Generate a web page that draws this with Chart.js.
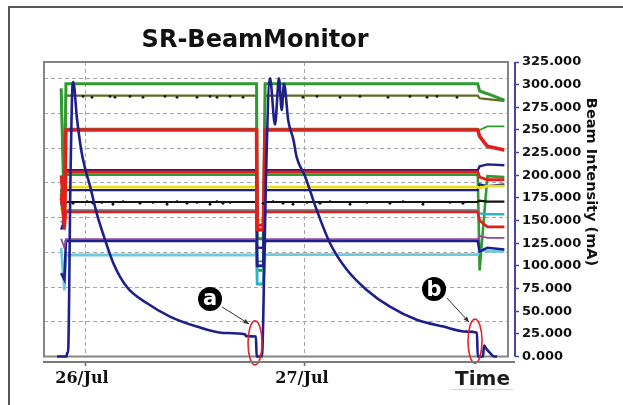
<!DOCTYPE html>
<html>
<head>
<meta charset="utf-8">
<title>SR-BeamMonitor</title>
<script src="https://cdn.jsdelivr.net/npm/chart.js@4.4.1/dist/chart.umd.min.js"></script>
<style>
    html, body { margin: 0; padding: 0; background: #fff; }
    #wrap { position: relative; width: 623px; height: 405px; overflow: hidden; }
    #edge { position: absolute; left: 8px; top: 6px; right: -4px; bottom: -4px; border-left: 2px solid #555; border-top: 2px solid #555; }
    #beamChart { position: absolute; left: 0; top: 0; }
</style>
</head>
<body>
<div id="wrap">
    <div id="edge"></div>
    <canvas id="beamChart" width="623" height="405"></canvas>
</div>
<script>
// Time axis is in hours counted from 26/Jul 00:00
const dayTicks  = [0, 24];
const dayLabels = ['26/Jul', '27/Jul'];

// Right axis (Beam Intensity, mA)
const intensityTicks = [0, 25, 50, 75, 100, 125, 150, 175, 200, 225, 250, 275, 300, 325];

// Background grid steps (grid of the hidden left axes)
const gridSteps = [1, 2, 3, 4, 5, 6, 7, 8];

// Stored beam current
const beamTime = [-3.05, -2.0, -1.96, -1.85, -1.58, -1.36, -1.28, -0.87, -0.38, 0, 0.55, 1.28, 2.18, 3.09, 4.55, 6.73, 9.27, 12.19, 15.09, 17.45, 17.56, 18.65, 18.72,
                  19.31, 19.42, 19.75, 20.18, 20.73, 21.16, 21.46, 21.71, 22.18, 22.72, 23.09, 24.0, 25.27, 26.73, 28.55, 30.73, 33.27, 36.19, 39.09, 41.64, 42.76, 42.84,
                  43.42, 43.53, 43.75, 44.18, 44.62, 44.95];
const beamCurrent = [0, 0, 4, 4, 200, 300, 303, 262, 226, 208, 188, 158, 129, 103, 77, 59, 44, 33, 26, 24.5, 22.5, 22, 0,
                     0, 30, 200, 307, 256, 307, 272, 301, 260, 240, 220, 199, 162, 125, 96, 73.5, 55, 40.5, 33, 27.5, 26.3, 0,
                     0, 12, 9, 4, 0, 0];

// Other machine channels, sampled at the same key times
const stepTime     = [-2.6, -2.25, -2.08, 18.72, 18.78, 19.45, 19.65, 42.85, 43.05, 43.9, 45.75];
const greenTop     = [296, 150, 301, 301, 130, 130, 301, 301, 293, 290, 283];
const oliveLine    = [288, 180, 288, 288, 150, 150, 288, 288, 285, 284, 282];
const red250       = [175, 160, 250, 250, 140, 140, 250, 250, 243, 232, 228];
const green250     = [190, 200, 251.5, 251.5, 105, 105, 251.5, 251.5, 250, 254, 254];
const navy205      = [140, 150, 205.5, 205.5, 100, 100, 205.5, 205.5, 210, 212, 211];
const red203       = [200, 150, 203.5, 203.5, 145, 145, 203.5, 203.5, 198, 195, 195];
const green200     = [185, 145, 200.5, 200.5, 95, 95, 200.5, 200.5, 95, 199, 198];
const yellow187    = [165, 150, 187, 187, 150, 150, 187, 187, 186, 188, 188];
const navy184      = [170, 150, 183.5, 183.5, 120, 120, 183.5, 183.5, 190, 188, 190];
const black170     = [175, 160, 170.5, 170.5, 150, 150, 170.5, 170.5, 172, 171, 171];
const cyan162      = [150, 145, 161.5, 161.5, 80, 80, 161.5, 161.5, 158, 157, 157];
const red159       = [180, 140, 159.5, 159.5, 140, 140, 159.5, 159.5, 150, 143, 143];
const purple129    = [130, 120, 129.5, 129.5, 120, 120, 129.5, 129.5, 133, 131, 131];
const navy127      = [92, 85, 127.5, 127.5, 100, 100, 127.5, 127.5, 116, 120, 118];
const lightCyan112 = [120, 73, 112, 112, 80, 80, 112.5, 112.5, 118, 116, 116];

// Glitch samples seen as dots along the olive and black channels
const oliveGlitchTime = [-0.22, 0.76, 2.73, 3.27, 4.91, 6.33, 8.73, 10.04, 12.22, 13.64, 14.4, 15.82, 17.24,
                         21.6, 23.78, 25.31, 27.82, 30.0, 33.05, 35.45, 37.31, 38.4, 40.58];
const oliveGlitchValue = [287, 286, 287, 286, 287, 286, 287, 286, 286, 287, 286, 287, 286,
                          287, 286, 287, 286, 287, 286, 287, 286, 287, 286];
const blackGlitchTime = [-1.31, 0.22, 0.87, 1.85, 3.05, 4.15, 6.0, 7.42, 8.95, 10.04, 11.13, 12.22, 13.64, 14.4, 15.05, 15.82,
                         19.42, 20.51, 21.6, 22.69, 24.22, 25.64, 26.73, 28.91, 30.76, 33.27, 34.69, 36.87, 39.82, 41.24];
const blackGlitchValue = [169, 171, 169, 170, 168, 171, 169, 170, 168, 171, 169, 170, 168, 171, 169, 170,
                          169, 171, 169, 168, 170, 169, 171, 168, 170, 169, 171, 168, 170, 169];

// Beam loss events marked on the chart
const eventLabels   = ['a', 'b'];
const eventTimes    = [18.55, 42.55];
const eventCurrents = [15, 17];

/**
 * Build {x, y} points from a time and a value array
 */
function toPoints(times, values)
{
    return values.map((v, i) => ({x: times[i], y: v}));
}

/**
 * Line dataset helper
 */
function channel(label, times, values, color, width)
{
    return {
        label: label,
        data: toPoints(times, values),
        borderColor: color,
        backgroundColor: color,
        borderWidth: width,
        pointRadius: 0,
        tension: 0,
        fill: false,
    };
}

/**
 * Dots only (no line)
 */
function glitches(label, times, values, color)
{
    return {
        label: label,
        data: toPoints(times, values),
        showLine: false,
        pointRadius: 1.4,
        pointBorderWidth: 0,
        pointBackgroundColor: color,
        borderColor: color,
    };
}

/**
 * Arrow with a small filled head
 */
function drawArrow(ctx, x1, y1, x2, y2)
{
    const angle = Math.atan2(y2 - y1, x2 - x1);
    ctx.beginPath();
    ctx.moveTo(x1, y1);
    ctx.lineTo(x2, y2);
    ctx.stroke();
    ctx.beginPath();
    ctx.moveTo(x2, y2);
    ctx.lineTo(x2 - 6 * Math.cos(angle - 0.4), y2 - 6 * Math.sin(angle - 0.4));
    ctx.lineTo(x2 - 6 * Math.cos(angle + 0.4), y2 - 6 * Math.sin(angle + 0.4));
    ctx.closePath();
    ctx.fill();
}

// Frame, right axis line, titles and the a/b markers
const beamDecorations = {
    id: 'beamDecorations',
    beforeDatasetsDraw(chart) {
        const {ctx, chartArea: area, scales} = chart;
        const frameRight = area.right - 7;
        const frameBottom = scales.y.getPixelForValue(0);

        ctx.save();
        // Clear the gap between the plot frame and the axes
        ctx.fillStyle = '#ffffff';
        ctx.fillRect(frameRight + 1, area.top - 1, area.right - frameRight - 1, area.bottom - area.top + 1);
        ctx.fillRect(area.left - 1, frameBottom + 1, area.right - area.left + 1, area.bottom - frameBottom - 1);

        // Plot frame
        ctx.strokeStyle = '#858585';
        ctx.lineWidth = 2;
        ctx.strokeRect(area.left, area.top, frameRight - area.left, frameBottom - area.top);
        ctx.restore();
    },
    afterDatasetsDraw(chart) {
        const {ctx, scales: {x, y}} = chart;
        const badgeOffsets = [[-45, -44], [-41, -52]];
        const arrowStarts  = [[12, 8], [13, 9]];

        ctx.save();
        eventLabels.forEach((label, i) => {
            const cx = x.getPixelForValue(eventTimes[i]);
            const cy = y.getPixelForValue(eventCurrents[i]);
            const bx = cx + badgeOffsets[i][0];
            const by = cy + badgeOffsets[i][1];

            // Red ellipse round the drop
            ctx.strokeStyle = '#e3242b';
            ctx.lineWidth = 1.6;
            ctx.beginPath();
            ctx.ellipse(cx, cy, 7, 22, 0, 0, Math.PI * 2);
            ctx.stroke();

            // Arrow from the badge to the ellipse
            ctx.strokeStyle = '#333333';
            ctx.fillStyle = '#333333';
            ctx.lineWidth = 1;
            drawArrow(ctx, bx + arrowStarts[i][0], by + arrowStarts[i][1], cx - 6, cy - 19);

            // Black badge with white letter
            ctx.fillStyle = '#000000';
            ctx.beginPath();
            ctx.arc(bx, by, 12, 0, Math.PI * 2);
            ctx.fill();
            ctx.fillStyle = '#ffffff';
            ctx.font = 'bold 21px "DejaVu Sans"';
            ctx.textAlign = 'center';
            ctx.textBaseline = 'middle';
            ctx.fillText(label, bx, by + 1);
        });
        ctx.restore();
    },
    afterDraw(chart) {
        const {ctx, chartArea: area, scales: {y}} = chart;
        const frameRight = area.right - 7;

        ctx.save();
        // Blue right axis line
        ctx.strokeStyle = '#4444a6';
        ctx.lineWidth = 2;
        ctx.beginPath();
        ctx.moveTo(area.right, y.getPixelForValue(325));
        ctx.lineTo(area.right, y.getPixelForValue(0));
        ctx.stroke();

        // Chart title
        ctx.fillStyle = '#111111';
        ctx.font = 'bold 24px "DejaVu Sans"';
        ctx.textAlign = 'center';
        ctx.textBaseline = 'alphabetic';
        ctx.fillText('SR-BeamMonitor', area.left + (frameRight - area.left) * 0.455, 47);

        // Time axis title
        ctx.font = 'bold 20px "DejaVu Sans"';
        ctx.textAlign = 'right';
        ctx.fillStyle = '#1c1c1c';
        ctx.fillText('Time', frameRight + 2, 385);
        ctx.strokeStyle = '#d4d4d4';
        ctx.lineWidth = 1;
        ctx.beginPath();
        ctx.moveTo(frameRight - 57, 389.5);
        ctx.lineTo(frameRight + 5, 389.5);
        ctx.stroke();

        // Right axis title
        ctx.translate(area.right + 76, 182);
        ctx.rotate(Math.PI / 2);
        ctx.fillStyle = '#111111';
        ctx.font = 'bold 14.5px "DejaVu Sans"';
        ctx.textAlign = 'center';
        ctx.textBaseline = 'middle';
        ctx.fillText('Beam Intensity (mA)', 0, 0);
        ctx.restore();
    }
};

// Datasets (the first one is drawn on top)
const navy = '#1f1f8c';
const red = '#e01f1f';
const green = '#2f9a2f';
const beamDataset = channel('Beam current', beamTime, beamCurrent, navy, 2.6);
beamDataset.cubicInterpolationMode = 'monotone';

const datasets = [
    beamDataset,
    glitches('Black glitches', blackGlitchTime, blackGlitchValue, '#111111'),
    glitches('Olive glitches', oliveGlitchTime, oliveGlitchValue, '#1a1a1a'),
    channel('Red 250', stepTime, red250, red, 3.6),
    channel('Red 203', stepTime, red203, red, 3),
    channel('Red 159', stepTime, red159, red, 2.8),
    channel('Yellow 187', stepTime, yellow187, '#e9df22', 2.8),
    channel('Black 170', stepTime, black170, '#151515', 2.2),
    channel('Navy 184', stepTime, navy184, navy, 2.2),
    channel('Navy 205', stepTime, navy205, navy, 2.4),
    channel('Purple 129', stepTime, purple129, '#93499b', 1.8),
    channel('Navy 127', stepTime, navy127, navy, 2.6),
    channel('Cyan 162', stepTime, cyan162, '#2db3c6', 2.4),
    channel('Light cyan 112', stepTime, lightCyan112, '#6fcbdc', 2.8),
    channel('Green 250', stepTime, green250, green, 1.8),
    channel('Green 200', stepTime, green200, green, 2.6),
    channel('Green 300', stepTime, greenTop, green, 3),
    channel('Olive 288', stepTime, oliveLine, '#5f6b22', 2.2),
];

const gridColor = '#a6a6a6';

// Print chart
const ctx = document.getElementById('beamChart').getContext('2d');
window.beamChart = new Chart(ctx, {
    type: 'line',
    data: { datasets: datasets },
    options: {
        responsive: false,
        animation: false,
        events: [],
        layout: {
            padding: { left: 44, top: 62, right: 38.8, bottom: 13.8 }
        },
        plugins: {
            legend: { display: false },
            title: { display: false },
            tooltip: { enabled: false }
        },
        scales: {
            x: {
                type: 'linear',
                min: -4.473,
                max: 46.91,
                afterBuildTicks: (scale) => { scale.ticks = dayTicks.map(v => ({value: v})); },
                ticks: {
                    autoSkip: false,
                    maxRotation: 0,
                    labelOffset: -3,
                    padding: 3,
                    color: '#111111',
                    font: { family: 'DejaVu Serif', weight: 'bold', size: 16 },
                    callback: (value, index) => dayLabels[index]
                },
                grid: {
                    color: gridColor,
                    lineWidth: 1,
                    tickLength: 4,
                    tickColor: '#666666',
                    tickWidth: 1.5,
                    tickBorderDash: []
                },
                border: { display: true, color: '#7a7a7a', width: 2, dash: [4, 3], z: 1 }
            },
            y: {
                position: 'right',
                min: -6.07,
                max: 325,
                afterBuildTicks: (scale) => { scale.ticks = intensityTicks.map(v => ({value: v})); },
                ticks: {
                    autoSkip: false,
                    padding: 3,
                    color: '#111111',
                    font: { family: 'DejaVu Sans', weight: 'bold', size: 13 },
                    callback: (value) => Number(value).toFixed(3)
                },
                grid: {
                    drawOnChartArea: false,
                    tickLength: 4,
                    tickColor: '#4444a6',
                    tickWidth: 1.5
                },
                border: { display: false }
            },
            gridY: {
                position: 'left',
                min: -0.1585,
                max: 8.487,
                afterBuildTicks: (scale) => { scale.ticks = gridSteps.map(v => ({value: v})); },
                ticks: { display: false },
                grid: { color: gridColor, lineWidth: 1, drawTicks: false },
                border: { display: false, dash: [4, 3] }
            }
        }
    },
    plugins: [beamDecorations]
});
</script>
</body>
</html>
